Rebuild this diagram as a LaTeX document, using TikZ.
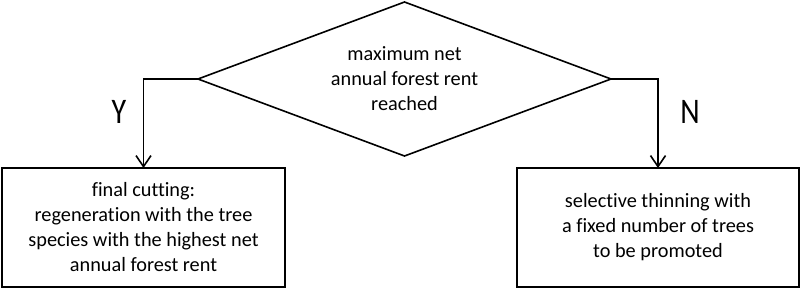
\documentclass[tikz,border=0pt]{standalone}
\usepackage{fontspec}
\setmainfont{Carlito}[Ligatures=NoCommon]
\usetikzlibrary{shapes.geometric,arrows.meta}
\newcommand{\wsp}{\hspace{0.22em}}
\begin{document}
\begin{tikzpicture}[x=1pt,y=-1pt,
  ln/.style={line width=1.6pt},
  arr/.style={ln,-{Straight Barb[length=11pt,width=15pt,line width=1.6pt]}},
  decision/.style={diamond,draw,ln,inner sep=0pt,outer sep=0pt,minimum width=413pt,minimum height=154pt,aspect=2.68,font=\fontsize{20.3}{25}\selectfont,align=center},
  actbox/.style={rectangle,draw,ln,inner sep=0pt,outer sep=0pt,minimum height=119pt,font=\fontsize{20.3}{25}\selectfont,align=center},
  yn/.style={font=\fontsize{30}{30}\selectfont}]
\useasboundingbox (0,0) rectangle (802,289);
\node[decision] (d) at (404.5,79) {maximum net\\annual forest\wsp rent\\reached};
\node[actbox,minimum width=283pt] (lb) at (143.5,227.5) {final cutting:\\regeneration\wsp with the tree\\species with the highest net\\annual forest\wsp rent};
\node[actbox,minimum width=282pt] (rb) at (658,227.5) {selective thinning with\\a fixed number of trees\\to be promoted};
\draw[arr] (d.west) -| (lb.north);
\draw[arr] (d.east) -| (rb.north);
\node[yn] (y) at (119,112) {\scalebox{1}[1.2]{Y}};
\node[yn] (n) at (690,112) {\scalebox{1}[1.2]{N}};
\end{tikzpicture}
\end{document}
